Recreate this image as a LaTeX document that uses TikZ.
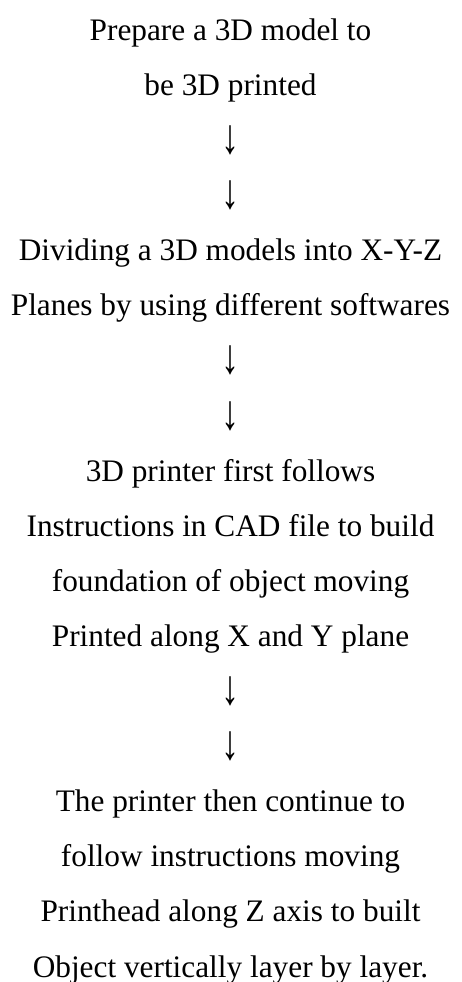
\documentclass[tikz,border=0pt]{standalone}
\usepackage{fontspec}
\setmainfont{Liberation Serif}
\newcommand{\dnarrow}{\raisebox{-3pt}{\scalebox{1.15}[1.58]{↓}}}
\begin{document}
\begin{tikzpicture}[x=1pt,y=1pt,
  ln/.style={anchor=base,inner sep=0pt,outer sep=0pt,font=\fontsize{31.3}{36}\selectfont}]
\useasboundingbox (0,0) rectangle (461,982);
\def\pitch{55.1}
\foreach \name/\i/\t in {
  l1/0/{Prepare a 3D model to},
  l2/1/{be 3D printed},
  a1/2/{\dnarrow},
  a2/3/{\dnarrow},
  l3/4/{Dividing a 3D models into X-Y-Z},
  l4/5/{Planes by using different softwares},
  a3/6/{\dnarrow},
  a4/7/{\dnarrow},
  l5/8/{3D printer first follows},
  l6/9/{Instructions in CAD file to build},
  l7/10/{foundation of object moving},
  l8/11/{Printed along X and Y plane},
  a5/12/{\dnarrow},
  a6/13/{\dnarrow},
  l9/14/{The printer then continue to},
  l10/15/{follow instructions moving},
  l11/16/{Printhead along Z axis to built},
  l12/17/{Object vertically layer by layer.}}
{
  \node[ln] (\name) at (230.5,{982-40.4-\pitch*\i}) {\t};
}
\end{tikzpicture}
\end{document}
